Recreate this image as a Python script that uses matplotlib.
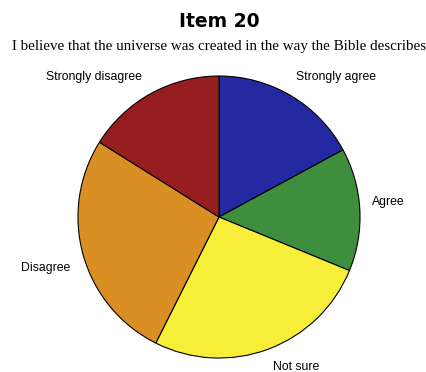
import matplotlib
matplotlib.use('Agg')
import matplotlib.pyplot as plt

# answers, clockwise from 12 o'clock (percent of respondents)
labels = ['Strongly agree', 'Agree', 'Not sure', 'Disagree', 'Strongly disagree']
values = [17.1, 14.1, 26.2, 26.5, 16.1]
colors = ['#2329a0', '#3f8e3e', '#f7ee3a', '#da8f24', '#961e1f']

# where the labels sit (data units, pie radius = 1)
label_pos = [(0.83, 0.99), (1.20, 0.11), (0.55, -1.06), (-1.23, -0.36), (-0.89, 0.99)]

fig = plt.figure(figsize=(4.27, 3.72), dpi=100)
ax = fig.add_axes([0, 0, 1, 1])

wedges, texts = ax.pie(values, labels=labels, colors=colors, startangle=90,
                       counterclock=False,
                       wedgeprops={'edgecolor': 'black', 'linewidth': 0.8},
                       textprops={'family': 'Liberation Sans', 'fontsize': 8.8})
for t, pos in zip(texts, label_pos):
    t.set_position(pos)
    t.set_ha('center')
    t.set_va('center')

ax.set_xlim(-1.553, 1.475)
ax.set_ylim(-1.099, 1.539)
ax.axis('off')

ax.text(0, 1.383, 'Item 20', ha='center', va='center', fontsize=13.5,
        fontweight='bold', family='DejaVu Sans')
ax.text(0.0, 1.206, 'I believe that the universe was created in the way the Bible describes',
        ha='center', va='center', fontsize=10.8, family='Liberation Serif')

fig.savefig('out.png', dpi=100)
